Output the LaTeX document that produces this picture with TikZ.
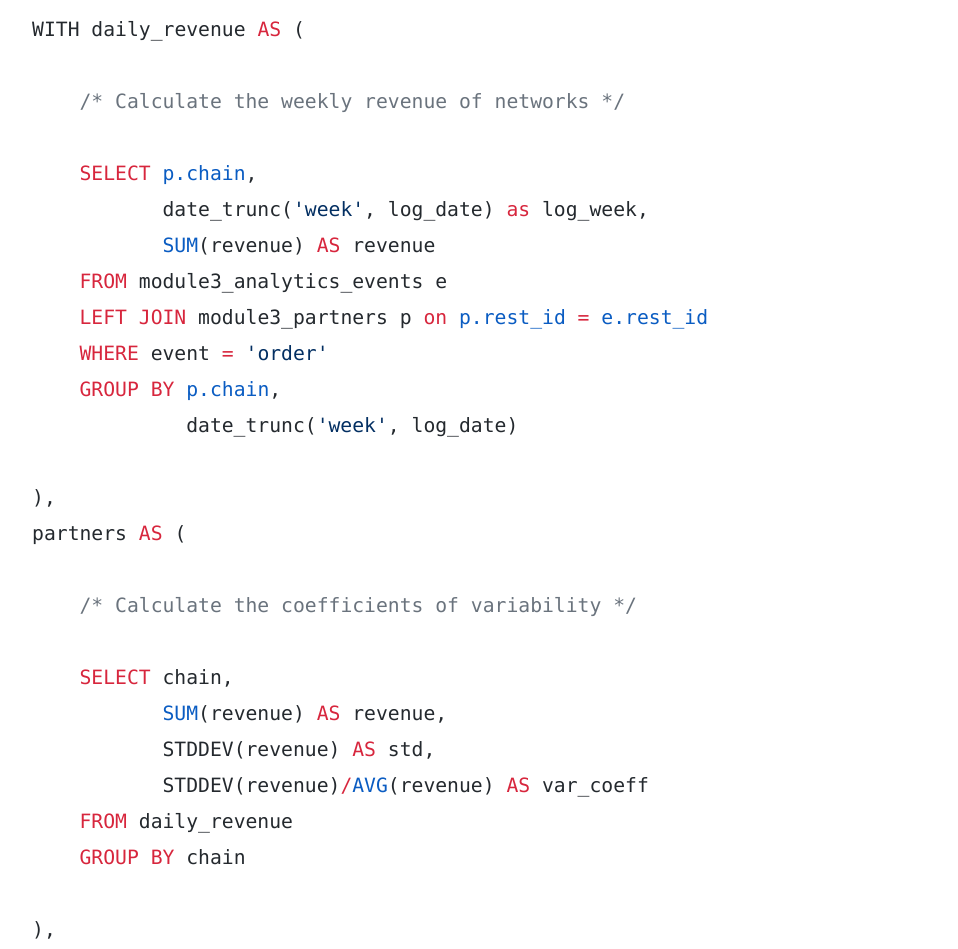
\documentclass[tikz,border=0pt]{standalone}
\usepackage{fontspec}
\setmonofont{DejaVu Sans Mono}
\definecolor{sqltext}{HTML}{24292E}
\definecolor{sqlkw}{HTML}{D7263D}
\definecolor{sqlfn}{HTML}{0A5CC2}
\definecolor{sqlstr}{HTML}{032F62}
\definecolor{sqlcm}{HTML}{6A737D}
\newcommand{\kwd}[1]{\textcolor{sqlkw}{#1}}
\newcommand{\fnc}[1]{\textcolor{sqlfn}{#1}}
\newcommand{\strg}[1]{\textcolor{sqlstr}{#1}}
\newcommand{\cmnt}[1]{\textcolor{sqlcm}{#1}}

\begin{document}
\begin{tikzpicture}[x=1pt,y=-1pt]
  \tikzstyle{codeline} = [anchor=base west, inner sep=0pt, text=sqltext, font=\ttfamily\fontsize{19.7}{24}\selectfont]
  \useasboundingbox (0,0) rectangle (958,948);
  % first query
  \node[codeline] at (32,36) (W) {WITH daily\_revenue \kwd{AS} (};
  \node[codeline] at (79.4,108) (C1) {\cmnt{/* Calculate the weekly revenue of networks */}};
  \node[codeline] at (79.4,180) (S1) {\kwd{SELECT} \fnc{p.chain},};
  \node[codeline] at (162.4,216) (T1) {date\_trunc(\strg{'week'}, log\_date) \kwd{as} log\_week,};
  \node[codeline] at (162.4,252) (R1) {\fnc{SUM}(revenue) \kwd{AS} revenue};
  \node[codeline] at (79.4,288) (F1) {\kwd{FROM} module3\_analytics\_events e};
  \node[codeline] at (79.4,324) (J1) {\kwd{LEFT JOIN} module3\_partners p \kwd{on} \fnc{p.rest\_id} \kwd{=} \fnc{e.rest\_id}};
  \node[codeline] at (79.4,360) (E1) {\kwd{WHERE} event \kwd{=} \strg{'order'}};
  \node[codeline] at (79.4,396) (G1) {\kwd{GROUP BY} \fnc{p.chain},};
  \node[codeline] at (186.1,432) (T2) {date\_trunc(\strg{'week'}, log\_date)};
  \node[codeline] at (32,504) (P1) {),};
  % second query
  \node[codeline] at (32,540) (P) {partners \kwd{AS} (};
  \node[codeline] at (79.4,612) (C2) {\cmnt{/* Calculate the coefficients of variability */}};
  \node[codeline] at (79.4,684) (S2) {\kwd{SELECT} chain,};
  \node[codeline] at (162.4,720) (R2) {\fnc{SUM}(revenue) \kwd{AS} revenue,};
  \node[codeline] at (162.4,756) (D2) {STDDEV(revenue) \kwd{AS} std,};
  \node[codeline] at (162.4,792) (V2) {STDDEV(revenue)\kwd{/}\fnc{AVG}(revenue) \kwd{AS} var\_coeff};
  \node[codeline] at (79.4,828) (F2) {\kwd{FROM} daily\_revenue};
  \node[codeline] at (79.4,864) (G2) {\kwd{GROUP BY} chain};
  \node[codeline] at (32,936) (P2) {),};
\end{tikzpicture}
\end{document}
